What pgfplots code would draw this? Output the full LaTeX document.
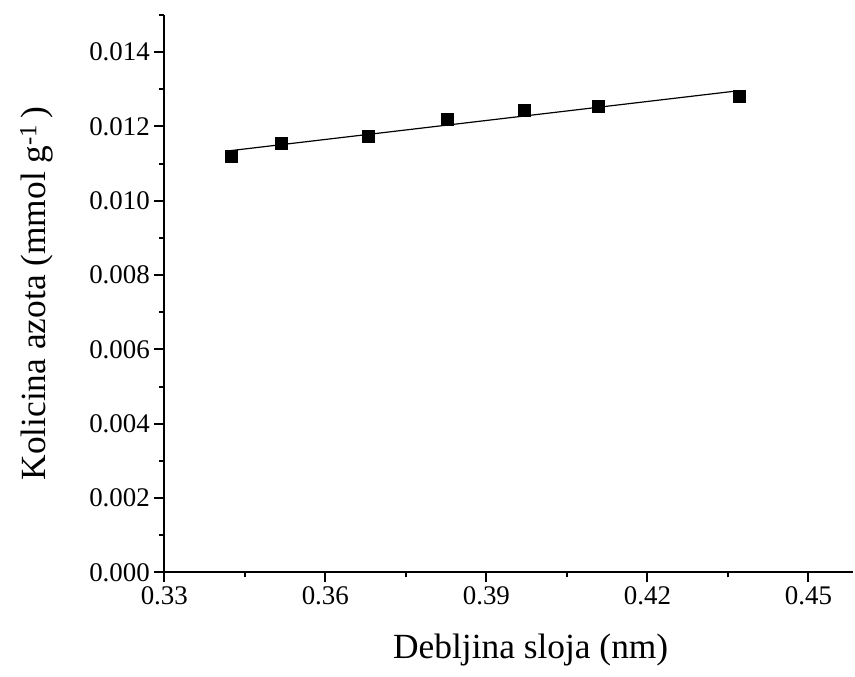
\documentclass[border=0pt]{standalone}
\usepackage{fontspec}
\setmainfont{Liberation Serif}
\usepackage{pgfplots}
\pgfplotsset{compat=1.18}
\begin{document}
\begin{tikzpicture}
\begin{axis}[
  name=ax,
  scale only axis,
  width=688.7bp, height=557.3bp,
  xmin=0.33, xmax=0.4583,
  ymin=0, ymax=0.015,
  axis x line*=bottom, axis y line*=left,
  axis line style={-, line width=2bp},
  xtick={0.33,0.36,0.39,0.42,0.45},
  minor xtick={0.345,0.375,0.405,0.435},
  ytick={0,0.002,0.004,0.006,0.008,0.010,0.012,0.014},
  minor ytick={0.001,0.003,0.005,0.007,0.009,0.011,0.013,0.015},
  tick align=outside,
  major tick length=10bp, minor tick length=5bp,
  tick style={line width=2bp, black},
  scaled x ticks=false, scaled y ticks=false,
  /pgf/number format/assume math mode=true,
  ticklabel style={font=\fontsize{27}{32}\selectfont},
  xticklabel style={yshift=-1bp, /pgf/number format/fixed, /pgf/number format/fixed zerofill, /pgf/number format/precision=2},
  yticklabel style={xshift=-1bp, /pgf/number format/fixed, /pgf/number format/fixed zerofill, /pgf/number format/precision=3},
  xlabel={Debljina sloja (nm)},
  ylabel={Kolicina azota (mmol g\textsuperscript{-1}\,)},
  label style={font=\fontsize{35.5}{42}\selectfont},
  xlabel style={at={([yshift=-86bp]axis description cs:0.532,0)}, anchor=base},
  ylabel style={at={([xshift=-119bp]axis description cs:0,0.5)}, anchor=base},
  clip=false,
]
\addplot[black, line width=1.2bp, mark=none] coordinates {(0.3418,0.01134) (0.4363,0.01295)};
\addplot[only marks, mark=square*, mark size=6bp, black] coordinates {
  (0.3424,0.01120)
  (0.3517,0.011548)
  (0.3680,0.011729)
  (0.3827,0.012185)
  (0.3970,0.012427)
  (0.4109,0.012543)
  (0.4371,0.012812)
};
\end{axis}
\pgfresetboundingbox
\path ([shift={(-164.3bp,-104.7bp)}]ax.south west) rectangle ++(855bp,677bp);
\end{tikzpicture}
\end{document}
